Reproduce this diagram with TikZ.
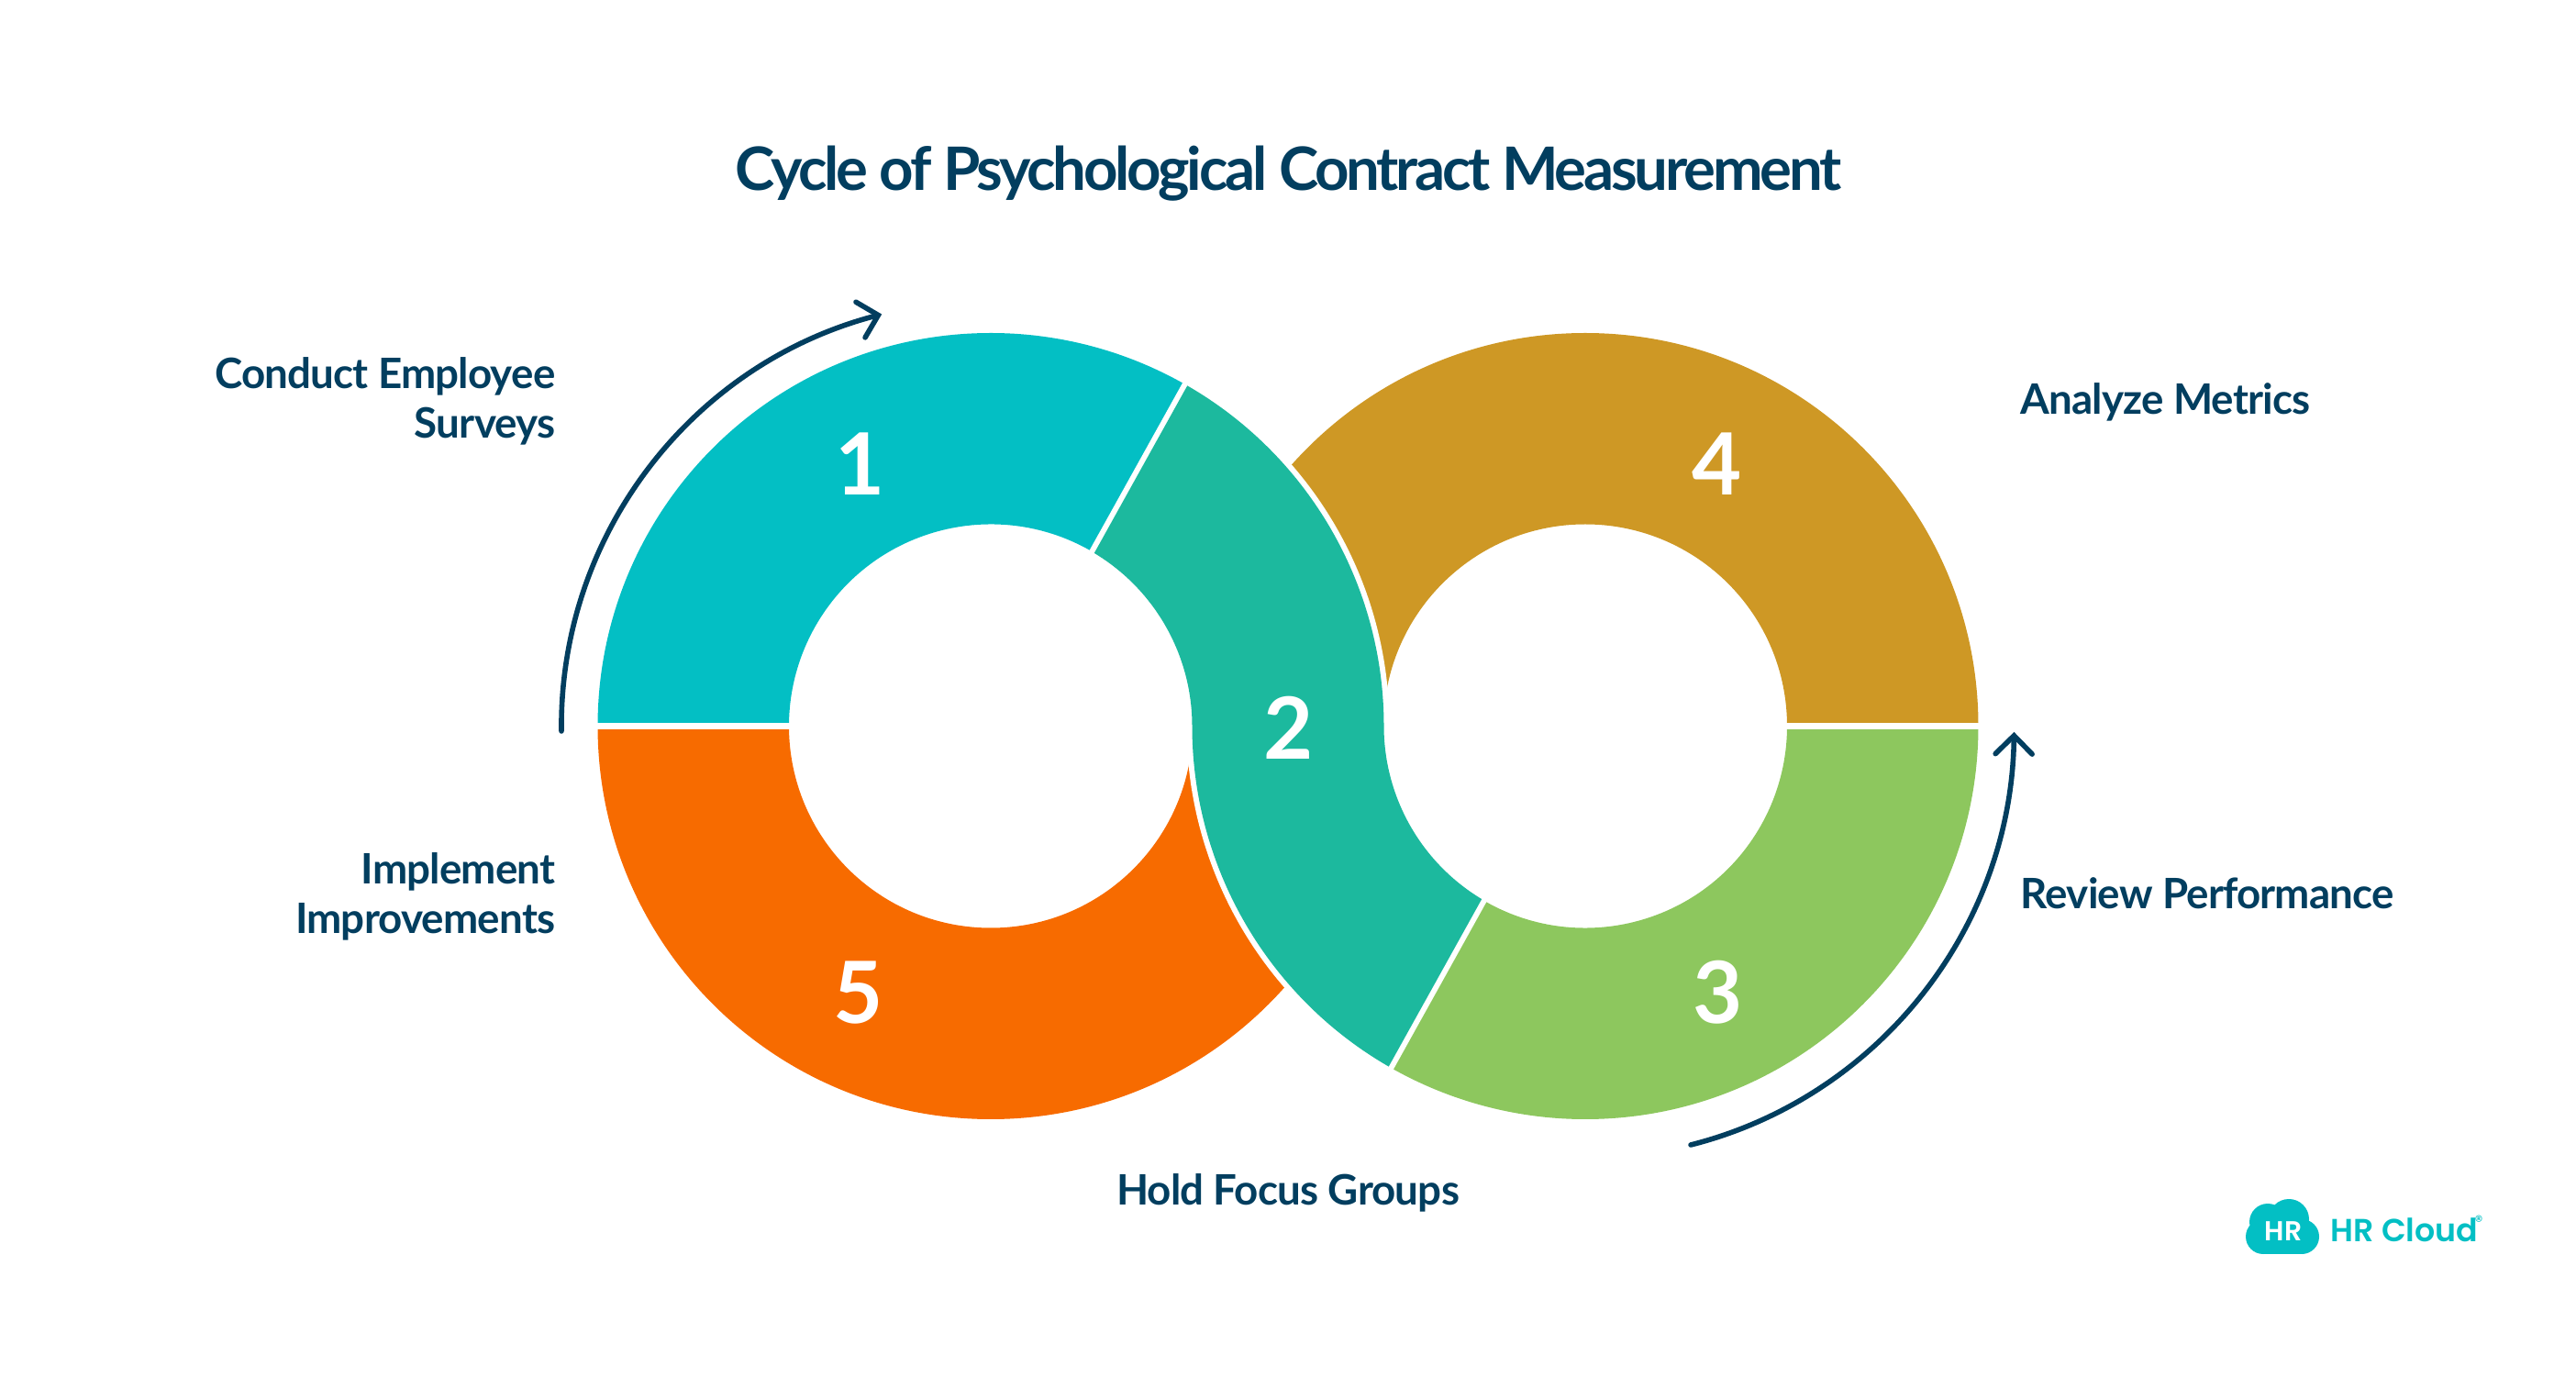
\documentclass[tikz,border=0pt]{standalone}
\usepackage{fontspec}
\setmainfont{Lato}
\newfontfamily\headfont{Lato}[LetterSpace=-5]
\newfontfamily\labelfont{Lato}[LetterSpace=-1.8]
\newfontfamily\logofont{Poppins}[BoldFont=Poppins SemiBold]
\usetikzlibrary{arrows.meta}
\definecolor{ink}{HTML}{023E5F}
\definecolor{cyan1}{HTML}{03BFC4}
\definecolor{teal2}{HTML}{1CB99E}
\definecolor{green3}{HTML}{8DC75E}
\definecolor{gold4}{HTML}{CE9825}
\definecolor{orange5}{HTML}{F76B00}
\newcommand{\ringseg}[4]{\fill[#4] ([shift={(#2:4.285)}]#1) arc[start angle=#2,end angle=#3,radius=4.285]
  -- ([shift={(#3:2.2)}]#1) arc[start angle=#3,end angle=#2,radius=2.2] -- cycle;}
\newcommand{\waist}{([shift={(60:4.285)}]L)
  arc[start angle=60,end angle=0,radius=4.285] arc[start angle=180,end angle=239,radius=2.2]
  -- ([shift={(240:4.285)}]R) arc[start angle=240,end angle=180,radius=4.285]
  arc[start angle=0,end angle=59,radius=2.2] -- cycle}
\begin{document}
\begin{tikzpicture}[>={Straight Barb[length=0.2cm,width=0.4cm,line cap=round]}]
\tikzstyle{nd}=[inner sep=0pt,text=ink,font=\labelfont\fontsize{13pt}{15.4pt}\selectfont\bfseries,align=right]
\tikzstyle{num}=[inner sep=0pt,text=white,anchor=base,font=\fontsize{26.6pt}{30pt}\selectfont\bfseries]
\tikzstyle{sep}=[draw=white,line width=0.07cm]
\tikzstyle{cyc}=[draw=ink,line width=0.056cm,line cap=round,->]
\useasboundingbox (0,0) rectangle (28.08,15.12);
\coordinate (L) at (10.80,7.205);
\coordinate (R) at (17.28,7.205);
\ringseg{L}{180}{59}{cyan1}
\ringseg{R}{0}{180}{gold4}
\ringseg{R}{360}{239}{green3}
\ringseg{L}{180}{360}{orange5}
\draw[sep] ([shift={(180:4.35)}]L) -- ([shift={(180:2.15)}]L);
\draw[sep] ([shift={(0:4.35)}]R) -- ([shift={(0:2.15)}]R);
\path[draw=white,line width=0.12cm,line join=round] \waist;
\fill[teal2] \waist;
\node[num] (n1) at (9.38,9.72) {1};
\node[num] (n2) at (14.05,6.84) {2};
\node[num] (n3) at (18.73,3.96) {3};
\node[num] (n4) at (18.72,9.72) {4};
\node[num] (n5) at (9.36,3.96) {5};
\coordinate (a1) at (6.12,7.15);
\coordinate (a2) at (18.43,2.64);
\draw[cyc] (a1) arc[start angle=180.7,end angle=104.7,x radius=4.68,y radius=4.64];
\draw[cyc] (a2) arc[start angle=-75.9,end angle=-0.7,x radius=4.66,y radius=4.7];
\node[inner sep=0pt,text=ink,anchor=base,font=\headfont\fontsize{18.57pt}{22pt}\selectfont\bfseries] (title) at (14.04,13.04) {Cycle of Psychological Contract Measurement};
\node[nd,anchor=base east] (t1) at (6.06,10.34) {Conduct Employee\\Surveys};
\node[nd,anchor=base] (t2) at (14.04,1.98) {Hold Focus Groups};
\node[nd,anchor=base west] (t3) at (22.02,5.21) {Review Performance};
\node[nd,anchor=base west] (t4) at (22.02,10.60) {Analyze Metrics};
\node[nd,anchor=base east] (t5) at (6.06,4.94) {Implement\\Improvements};
\fill[cyan1] (24.67,1.64) circle (0.19) (24.72,1.80) circle (0.20) (24.95,1.83) circle (0.22) (25.09,1.64) circle (0.19);
\fill[cyan1] (24.67,1.45) rectangle (25.09,1.70);
\node[inner sep=0pt,text=white,anchor=base,font=\logofont\fontsize{8.5pt}{10pt}\selectfont\bfseries] (hr) at (24.89,1.60) {HR};
\node[inner sep=0pt,text=cyan1,anchor=base west,font=\logofont\fontsize{9.9pt}{12pt}\selectfont\bfseries] (brand) at (25.40,1.59) {HR Cloud};
\node[inner sep=0pt,text=cyan1,anchor=base west,font=\logofont\fontsize{5pt}{6pt}\selectfont] (reg) at (26.97,1.74) {®};
\end{tikzpicture}
\end{document}
